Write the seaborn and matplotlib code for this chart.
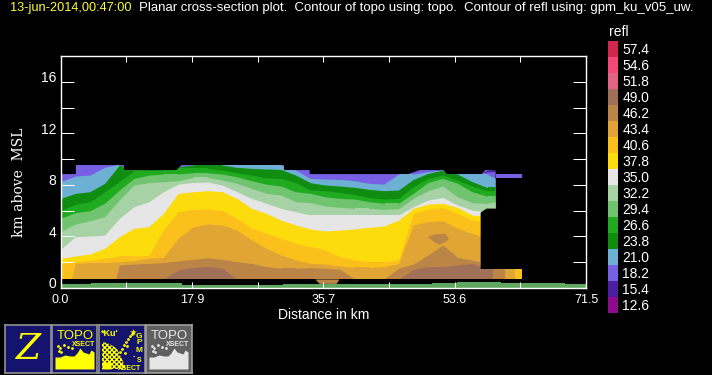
import pandas as pd
import matplotlib
matplotlib.use("Agg")
import matplotlib.pyplot as plt
from matplotlib.colors import ListedColormap
from matplotlib.transforms import ScaledTranslation
import seaborn as sns

# distance stations (km) and top of each reflectivity region (km)
dist = [0, 1.5, 2, 4, 6, 7.5, 8, 10, 12, 14, 16, 18, 20, 22, 24, 26, 28, 30, 32, 34, 36, 38, 40, 42, 44, 46, 48, 50, 52, 54, 56, 58, 59.2]
base = 0.70
outline_x = [0, 2.09, 2.09, 8.62, 8.62, 15.79, 16.47, 30.4, 30.4, 33.9, 33.9, 47.3, 48.9, 52.1, 52.5, 57.3, 57.8, 59.2]
outline_top = [8.84, 8.84, 9.54, 9.54, 9.15, 9.15, 9.54, 9.54, 9.15, 9.15, 8.84, 8.84, 9.15, 9.15, 8.84, 8.84, 9.15, 9.10]
top_182 = [9.6] * 33
top_210 = [8.25, 8.57, 8.68, 8.76, 9.36, 9.54, 9.54, 9.15, 9.15, 9.15, 9.41, 9.54, 9.54, 9.54, 9.54, 9.54, 9.54, 9.54, 9.15, 8.50, 8.45, 8.43, 8.32, 8.12, 8.06, 8.84, 8.84, 9.02, 9.15, 8.84, 8.84, 8.84, 8.50]
top_238 = [6.95, 7.24, 7.34, 7.47, 8.12, 9.18, 9.54, 9.15, 9.15, 9.15, 9.41, 9.54, 9.54, 9.54, 9.36, 9.28, 9.23, 9.20, 8.76, 8.17, 7.99, 7.91, 7.81, 7.65, 7.55, 7.60, 8.43, 8.89, 9.15, 8.84, 8.25, 7.81, 7.81]
top_266 = [6.00, 6.37, 6.49, 6.69, 7.47, 8.05, 8.25, 9.10, 9.10, 9.10, 9.28, 9.28, 9.28, 9.15, 8.94, 8.76, 8.55, 8.50, 8.17, 7.60, 7.55, 7.42, 7.26, 7.01, 6.90, 6.95, 7.86, 8.50, 8.76, 8.37, 7.91, 7.55, 7.55]
top_294 = [5.40, 5.73, 5.84, 6.00, 6.57, 7.34, 7.60, 8.50, 8.76, 8.84, 8.84, 8.94, 8.94, 8.84, 8.63, 8.32, 8.06, 7.91, 7.47, 7.34, 7.08, 6.95, 6.90, 6.69, 6.57, 6.57, 7.34, 8.19, 8.50, 8.12, 7.47, 7.13, 7.13]
top_322 = [4.37, 4.81, 4.96, 5.22, 5.53, 6.50, 6.82, 7.99, 8.17, 8.25, 8.32, 8.58, 8.58, 8.37, 8.12, 7.73, 7.34, 7.21, 6.69, 6.62, 6.36, 6.26, 6.18, 6.18, 6.10, 6.15, 6.95, 7.55, 7.91, 7.08, 6.62, 6.57, 6.69]
top_350 = [3.00, 3.73, 3.98, 4.03, 4.11, 5.08, 5.40, 6.31, 6.69, 7.47, 8.06, 8.19, 8.22, 7.99, 7.47, 6.95, 6.57, 6.18, 5.92, 5.66, 5.66, 5.66, 5.66, 5.66, 5.66, 5.66, 6.31, 6.82, 7.03, 6.44, 6.05, 5.89, 5.89]
top_378 = [2.30, 2.43, 2.48, 2.64, 3.08, 3.75, 3.98, 4.63, 4.76, 5.79, 7.34, 7.47, 7.55, 7.47, 6.95, 6.18, 5.79, 5.27, 4.89, 4.58, 4.42, 4.50, 4.58, 4.71, 4.81, 5.27, 6.18, 6.51, 6.57, 6.26, 5.66, 5.58, 5.58]
top_406 = [1.91, 2.01, 2.04, 2.17, 2.30, 2.44, 2.48, 2.48, 2.53, 4.50, 5.92, 6.10, 6.13, 6.00, 5.40, 4.63, 4.24, 3.85, 3.46, 3.21, 2.95, 2.43, 2.17, 2.04, 2.04, 2.17, 5.79, 6.10, 6.26, 5.79, 5.27, 5.14, 5.14]
top_434 = [0.70, 0.70, 1.91, 1.97, 1.97, 2.02, 2.04, 2.12, 2.30, 2.38, 3.85, 4.71, 4.96, 4.89, 4.50, 3.72, 3.08, 2.56, 2.17, 1.91, 1.86, 1.71, 1.60, 1.60, 1.66, 1.91, 4.89, 5.14, 5.22, 4.63, 4.24, 3.85, 3.85]
top_462 = [0.70, 0.70, 0.70, 0.70, 0.70, 0.70, 1.79, 1.86, 1.91, 1.97, 2.10, 2.22, 2.35, 2.22, 2.04, 1.91, 1.66, 1.53, 1.53, 1.58, 1.53, 1.45, 0.70, 0.70, 0.70, 1.53, 1.86, 2.56, 3.34, 2.38, 2.17, 1.91, 1.91]
top_490 = [0.70, 0.70, 0.70, 0.70, 0.70, 0.70, 0.70, 0.70, 0.70, 0.70, 1.40, 1.60, 1.68, 1.53, 0.70, 0.70, 0.70, 0.70, 0.70, 0.70, 0.70, 0.70, 0.70, 0.70, 0.70, 0.70, 1.45, 1.66, 1.66, 1.79, 1.91, 1.48, 1.48]

# small separate pieces of the field
eye_x = [50.0, 50.8, 51.5, 52.3, 52.8]
eye_high = [4.03, 4.19, 4.24, 4.24, 3.85]
eye_low = [3.93, 3.60, 3.39, 3.60, 3.85]
dip_x = [34.6, 35.2, 37.5, 37.9]
dip_low = [0.70, 0.36, 0.36, 0.70]
wisp_x = [57.6, 58.2, 59.2]
wisp_high = [9.02, 9.15, 9.10]
wisp_low = [8.94, 9.02, 9.02]
gap_x = [57.1, 57.9, 59.2]
gap_high = [5.89, 6.20, 6.20]
gap_low = 1.48
tail_x = [57.1, 58.9, 60.5, 61.8, 62.8]
tail_levels = [49.0, 46.2, 43.4, 40.6]
tail_top = 1.48
plume_x = [59.2, 62.8]
plume_high = 8.84
plume_low = 8.50
ground_x = [0, 4.2, 8.8, 16.5, 30.3, 38.9, 50.5, 53.9, 60.0, 68.6, 71.5]
ground_top = [0.31, 0.42, 0.36, 0.26, 0.31, 0.31, 0.36, 0.47, 0.42, 0.31, 0.31]

# colour table
levels = [57.4, 54.6, 51.8, 49.0, 46.2, 43.4, 40.6, 37.8, 35.0, 32.2, 29.4, 26.6, 23.8, 21.0, 18.2, 15.4, 12.6]
colors = ["#d0284c", "#f44878", "#e06484", "#a07058", "#bc8548", "#e0a535", "#fcc01c", "#fcdc0c", "#e6e6e6",
          "#a6d2a6", "#70c470", "#20aa20", "#108c10", "#6eb0d4", "#7860e4", "#4c1ea0", "#8c0c8c"]
level_color = dict(zip(levels, colors))
x_ticks = [0, 8.94, 17.88, 26.81, 35.75, 44.69, 53.63, 62.56, 71.5]
x_labels = ["0.0", "", "17.9", "", "35.7", "", "53.6", "", "71.5"]
y_ticks = [0, 2, 4, 6, 8, 10, 12, 14, 16]
y_labels = ["0", "", "4", "", "8", "", "12", "", "16"]

sns.set_theme(style="dark", rc={"figure.facecolor": "black", "axes.facecolor": "black", "axes.edgecolor": "white",
                                "savefig.facecolor": "black", "text.color": "white", "xtick.color": "white",
                                "ytick.color": "white", "axes.labelcolor": "white", "axes.linewidth": 1.0})
plt.rcParams["font.family"] = ["Liberation Sans", "DejaVu Sans"]

W, H = 712, 375
fig = plt.figure(figsize=(W / 100, H / 100), dpi=100)


def px_axes(x0, y0, x1, y1):
    return fig.add_axes([x0 / W, 1 - y1 / H, (x1 - x0) / W, (y1 - y0) / H])


ax = px_axes(60.5, 56, 586, 288)
ax.set_axisbelow(False)

# everything above the outline is outside the field
field = ax.fill_between(outline_x, base, outline_top, color="black", lw=0)
field_path = field.get_paths()[0]
layers = [(18.2, top_182), (21.0, top_210), (23.8, top_238), (26.6, top_266), (29.4, top_294), (32.2, top_322),
          (35.0, top_350), (37.8, top_378), (40.6, top_406), (43.4, top_434), (46.2, top_462), (49.0, top_490)]
for level, top in layers:
    band = ax.fill_between(dist, base, top, color=level_color[level], lw=0)
    band.set_clip_path(field_path, ax.transData)

ax.fill_between(wisp_x, wisp_low, wisp_high, color=level_color[15.4], lw=0)
ax.fill_between(eye_x, eye_low, eye_high, color=level_color[46.2], lw=0)
ax.fill_between(dip_x, dip_low, base, color=level_color[46.2], lw=0)
ax.fill_between(gap_x, gap_low, gap_high, color="black", lw=0)
ax.fill_between(plume_x, plume_low, plume_high, color=level_color[18.2], lw=0)
for i, level in enumerate(tail_levels):
    ax.fill_between(tail_x[i:i + 2], base, tail_top, color=level_color[level], lw=0)
ax.fill_between(ground_x, 0, ground_top, step="post", color="#60a860", lw=0)

ax.set_xlim(0, 71.5)
ax.set_ylim(0, 18)
ax.set_xticks(x_ticks, x_labels)
ax.set_yticks(y_ticks, y_labels)
ax.tick_params(axis="x", direction="in", top=True, bottom=True, length=4.5, width=0.75, labelsize=9, pad=4)
ax.tick_params(axis="y", direction="in", left=True, right=True, length=9.4, width=0.75, labelsize=10, pad=3)
for label in ax.get_yticklabels():
    label.set_transform(label.get_transform() + ScaledTranslation(0, 5 / 100, fig.dpi_scale_trans))
ax.grid(False)
for spine in ax.spines.values():
    spine.set_color("white")

fig.text(324 / W, 1 - 315 / H, "Distance in km", ha="center", va="center", fontsize=10)
fig.text(19 / W, 1 - 182 / H, "km above  MSL", rotation=90, ha="center", va="center", fontsize=10, family="DejaVu Serif")
fig.text(10 / W, 1 - 7.5 / H, "13-jun-2014,00:47:00", color="#ffff33", ha="left", va="center", fontsize=9.2)
fig.text(139 / W, 1 - 7.5 / H, "Planar cross-section plot.  Contour of topo using: topo.  Contour of refl using: gpm_ku_v05_uw.",
         ha="left", va="center", fontsize=9.5)

# colour key
key = px_axes(608, 41, 618, 313)
table = pd.DataFrame({"refl": levels}, index=[f"{v:.1f}" for v in levels])
sns.heatmap(table, cmap=ListedColormap(colors[::-1]), cbar=False, xticklabels=False, yticklabels=True, ax=key)
key.set_ylabel("")
key.yaxis.tick_right()
key.tick_params(axis="y", length=0, labelsize=10, pad=3, labelrotation=0)
fig.text(609 / W, 1 - 32 / H, "refl", ha="left", va="center", fontsize=10)

# icon row
NAVY = "#14146e"
YELLOW = "#ffff00"
icon_boxes = [(5, 50.5), (52, 97.5), (99, 144.5), (146, 192)]
topo_x = [3, 8, 13, 18, 22, 25, 28, 31, 34, 37, 39, 42]
topo_y = [32, 32, 30, 31, 31, 28, 23, 27, 28, 29, 25, 27]


def icon_axes(x0, x1, face, edge):
    a = px_axes(x0, 325, x1, 372.5)
    a.set_facecolor(face)
    a.set_xlim(0, x1 - x0)
    a.set_ylim(47.5, 0)
    a.set_xticks([])
    a.set_yticks([])
    for s in a.spines.values():
        s.set_color(edge)
        s.set_linewidth(1.2)
    return a


def topo_icon(a, ink):
    a.text(23, 11, "TOPO", color=ink, ha="center", va="center", fontsize=9.5)
    a.text(32, 19, "XSECT", color=ink, ha="center", va="center", fontsize=5, weight="bold")
    a.fill_between(topo_x, topo_y, 44, color=ink, lw=0)
    sns.scatterplot(x=[6, 8, 7, 12, 16, 20, 9], y=[21, 23, 26, 20, 22, 23, 27], color=ink, s=4, lw=0, ax=a)


a = icon_axes(*icon_boxes[0], NAVY, "#909090")
a.text(23, 24, "Z", color=YELLOW, ha="center", va="center", fontsize=26, family="DejaVu Serif", style="italic")

topo_icon(icon_axes(*icon_boxes[1], NAVY, "#909090"), YELLOW)

a = icon_axes(*icon_boxes[2], NAVY, "#909090")
a.text(11, 8, "*Ku'", color=YELLOW, ha="center", va="center", fontsize=6.5, weight="bold")
for t, yy in zip("GPM", [11, 18, 25]):
    a.text(40, yy, t, color=YELLOW, ha="center", va="center", fontsize=6, weight="bold")
a.text(35, 32, "-", color=YELLOW, ha="center", va="center", fontsize=5, weight="bold")
a.text(40, 35, "S", color=YELLOW, ha="center", va="center", fontsize=5, weight="bold")
a.text(31, 43, "XSECT", color=YELLOW, ha="center", va="center", fontsize=5, weight="bold")
a.fill_between([3, 8, 14, 18, 22, 26], [17, 18, 21, 24, 32, 41], 44, facecolor="none", edgecolor=YELLOW, hatch="xxxxxxx", lw=0)
a.fill_between([3, 8, 12], [37, 37, 38], 44, color=YELLOW, lw=0)
sns.scatterplot(x=[21, 23, 25, 27, 29, 31, 33, 28, 26], y=[27, 24, 20, 17, 14, 11, 9, 21, 28], color=YELLOW, s=4, lw=0, ax=a)
sns.scatterplot(x=[34], y=[7], color=YELLOW, s=25, marker="*", lw=0, ax=a)

topo_icon(icon_axes(*icon_boxes[3], "#606060", "#a0a0a0"), "#e6e6e6")

plt.savefig("out.png", dpi=100)
plt.close()
